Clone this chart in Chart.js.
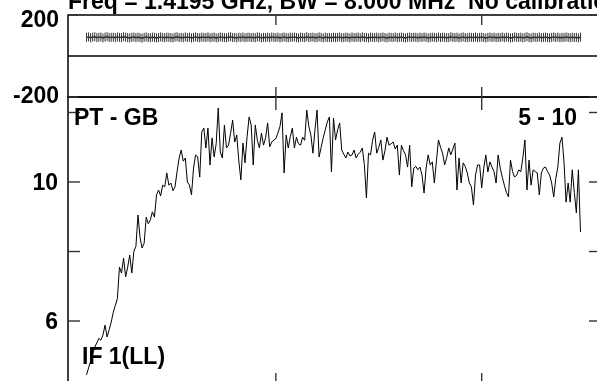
<!DOCTYPE html>
<html>
<head>
<meta charset="utf-8">
<script src="https://cdn.jsdelivr.net/npm/chart.js@4/dist/chart.umd.min.js"></script>
<style>
  html, body { margin: 0; padding: 0; background: #fff; overflow: hidden; width: 597px; height: 381px; }
  #wrap { position: absolute; left: 0; top: 0; width: 620px; height: 400px; }
</style>
</head>
<body>
<div id="wrap"><canvas id="possm" width="620" height="400"></canvas></div>
<script>
// Spectrum of baseline PT - GB, IF 1 (LL), channels 8..248
const firstChannel = 8;

// cross-correlation phase (degrees) per channel
const phaseDeg = [
  91,93,89,92,94,90,91,93,88,92,95,90,91,92,89,93,91,90,94,92,
  90,88,91,93,89,92,90,87,91,93,90,89,92,91,88,90,93,91,89,92,
  91,90,88,92,94,90,91,89,93,90,92,88,91,93,90,89,92,91,90,93,
  89,91,92,88,90,93,91,90,89,92,94,90,91,88,92,90,93,89,91,92,
  90,91,89,93,92,88,91,90,92,89,93,91,90,92,88,91,93,90,89,92,
  91,93,90,88,92,91,89,94,90,91,92,89,90,93,91,88,92,90,91,89,
  92,90,91,93,89,90,92,91,88,93,90,91,92,89,94,90,91,88,92,91,
  90,92,89,91,93,90,88,92,91,90,93,89,91,92,90,88,91,93,90,92,
  91,89,92,90,93,91,88,90,92,91,89,93,90,92,91,89,90,94,91,90,
  92,88,91,93,90,89,92,91,90,93,89,91,92,90,88,91,93,90,92,89,
  91,90,93,89,92,91,88,90,93,91,90,92,89,91,94,90,88,92,91,90,
  93,89,91,92,90,88,91,93,90,92,89,91,90,93,91,89,92,90,91,88,
  92
];

// cross-correlation amplitude per channel
const amplitude = [
  4.45,4.65,4.85,5.05,5.25,5.37,5.50,5.45,5.60,5.88,
  5.54,5.75,5.97,6.25,6.45,6.65,7.55,7.38,7.81,7.27,
  7.55,7.90,7.38,8.00,8.15,9.05,8.40,8.10,8.24,8.99,
  8.80,8.91,9.14,8.99,9.63,9.77,9.60,9.91,9.86,10.26,
  9.91,9.97,9.75,9.86,10.30,10.69,10.92,10.60,10.69,10.00,
  9.91,9.63,10.40,10.78,10.72,10.14,11.44,11.55,10.98,11.55,
  10.49,11.27,10.72,11.10,12.13,10.86,10.69,11.64,10.98,11.06,
  11.40,11.78,11.15,11.35,10.60,10.06,11.12,10.55,11.30,11.87,
  11.64,10.49,11.64,11.20,10.98,11.41,11.06,11.27,11.70,11.01,
  11.15,11.21,11.25,11.41,11.60,11.99,10.26,11.35,10.98,11.30,
  11.55,10.98,11.29,11.10,11.06,11.29,11.20,12.07,11.60,11.35,
  10.83,11.50,12.07,10.72,11.00,11.27,11.50,11.73,11.87,10.29,
  11.84,11.21,11.50,11.70,10.92,10.80,10.69,10.86,10.75,10.78,
  10.92,10.69,10.80,10.86,10.98,10.50,9.54,10.83,10.78,11.20,
  11.44,10.83,11.00,11.21,10.63,10.90,11.29,11.06,11.10,11.15,
  10.95,11.06,10.20,11.06,10.90,10.78,10.43,11.06,9.86,10.40,
  10.45,10.35,10.43,10.20,9.68,10.40,10.78,10.49,10.58,9.97,
  10.60,11.21,11.00,10.83,10.49,10.70,10.98,10.78,10.95,11.12,
  9.77,10.69,9.97,10.55,10.45,10.26,9.97,9.86,9.34,10.20,
  10.49,10.49,9.83,10.40,10.78,10.29,10.58,10.43,10.30,9.97,
  10.78,10.40,10.14,9.91,9.70,9.57,10.63,10.30,10.14,10.20,
  10.35,10.29,10.70,11.21,9.77,10.63,9.91,10.35,10.30,10.26,
  9.63,10.26,10.40,10.43,10.30,10.20,9.97,9.57,10.10,10.43,
  11.12,11.29,10.58,9.42,9.97,9.42,10.35,9.70,9.11,10.35,
  8.56
];

const channelTicks = [100, 200];
const phaseTicks = [-200, 200];
const ampTicks = [6, 8, 10, 12];
const ampLabels = ['6', '10'];

const titleText = 'Freq = 1.4195 GHz, BW = 8.000 MHz  No calibration applied';
const baselineText = 'PT - GB';
const timeText = '5 - 10';
const ifText = 'IF 1(LL)';

const channelOf = i => firstChannel + i;
const phasePoints = phaseDeg.map((v, i) => ({ x: channelOf(i), y: v }));
const ampPoints = amplitude.map((v, i) => ({ x: channelOf(i), y: v }));

const FONT = '"Liberation Sans", Arial, Helvetica, sans-serif';
const FSIZE = 23;

// y axes keep a fixed gutter and no label overhang padding
const fixGutter = s => {
  s.width = 68;
  s.paddingTop = 0;
  s.paddingBottom = 0;
};

// frames, inward tick marks and panel annotations
const panelPlugin = {
  id: 'panelFrames',
  afterDatasetsDraw(chart) {
    const { ctx, chartArea } = chart;
    const xs = chart.scales.x, yp = chart.scales.yPhase, ya = chart.scales.yAmp;
    const L = chartArea.left, R = chartArea.right;
    const seg = (x1, y1, x2, y2) => { ctx.beginPath(); ctx.moveTo(x1, y1); ctx.lineTo(x2, y2); ctx.stroke(); };
    ctx.save();
    ctx.strokeStyle = '#000';
    ctx.lineWidth = 1.5;
    for (const s of [yp, ya]) {
      ctx.strokeRect(L, s.top, R - L, s.bottom - s.top);
    }
    seg(L, yp.getPixelForValue(0), R, yp.getPixelForValue(0));
    ctx.strokeStyle = '#333';
    ctx.lineWidth = 1.4;
    for (const c of channelTicks) {
      const px = xs.getPixelForValue(c);
      seg(px, yp.top, px, yp.top + 10);
      seg(px, yp.bottom, px, yp.bottom - 10);
      seg(px, ya.top, px, ya.top + 13);
      seg(px, ya.bottom, px, ya.bottom - 10);
    }
    for (const v of phaseTicks) {
      const py = yp.getPixelForValue(v);
      seg(L, py, L + 10, py);
      seg(R, py, R - 10, py);
    }
    for (const v of ampTicks) {
      const py = ya.getPixelForValue(v);
      seg(L, py, L + 12, py);
      seg(R, py, R - 10, py);
    }
    ctx.fillStyle = '#000';
    ctx.font = 'bold ' + FSIZE + 'px ' + FONT;
    ctx.textBaseline = 'alphabetic';
    ctx.textAlign = 'left';
    ctx.fillText(titleText, L, 8.5);
    ctx.fillText(baselineText, L + 6, ya.top + 28);
    ctx.fillText(ifText, L + 14, ya.top + 267);
    ctx.textAlign = 'right';
    ctx.fillText(timeText, R - 22, ya.top + 28);
    ctx.restore();
  }
};

new Chart(document.getElementById('possm'), {
  type: 'line',
  data: {
    datasets: [
      {
        data: phasePoints,
        yAxisID: 'yPhase',
        borderColor: '#222',
        borderWidth: 1.4,
        pointStyle: 'line',
        rotation: 90,
        pointRadius: 4.5,
        pointBorderColor: '#333',
        pointBorderWidth: 1,
        tension: 0
      },
      {
        data: ampPoints,
        yAxisID: 'yAmp',
        borderColor: '#000',
        borderWidth: 1,
        pointRadius: 0,
        tension: 0
      }
    ]
  },
  options: {
    responsive: false,
    devicePixelRatio: 1,
    animation: false,
    events: [],
    layout: { padding: { left: 0, top: 15, right: 21, bottom: 17 } },
    plugins: { legend: { display: false }, tooltip: { enabled: false }, title: { display: false } },
    scales: {
      x: {
        type: 'linear',
        min: -1,
        max: 257,
        display: false
      },
      // stacked panels are laid out bottom-up: amplitude first, phase on top
      yAmp: {
        type: 'linear',
        position: 'left',
        stack: 'panels',
        stackWeight: 286,
        min: 4.216,
        max: 12.446,
        grid: { display: false, drawTicks: false },
        border: { display: false },
        afterBuildTicks: s => { s.ticks = ampTicks.map(v => ({ value: v })); },
        afterFit: fixGutter,
        ticks: {
          padding: 10,
          labelOffset: 2,
          color: '#000',
          font: { family: FONT, size: FSIZE, weight: 'bold' },
          callback: v => ampLabels.includes(String(v)) ? String(v) : ''
        }
      },
      yPhase: {
        type: 'linear',
        position: 'left',
        stack: 'panels',
        stackWeight: 82,
        min: -200,
        max: 200,
        grid: { display: false, drawTicks: false },
        border: { display: false },
        afterBuildTicks: s => { s.ticks = phaseTicks.map(v => ({ value: v })); },
        afterFit: fixGutter,
        ticks: {
          padding: 9,
          color: '#000',
          // the upper label hangs just below the frame corner
          font: { family: FONT, size: FSIZE, weight: 'bold', lineHeight: '12px' },
          callback: v => (v > 0 ? ['', String(v)] : String(v))
        }
      }
    }
  },
  plugins: [panelPlugin]
});
</script>
</body>
</html>
